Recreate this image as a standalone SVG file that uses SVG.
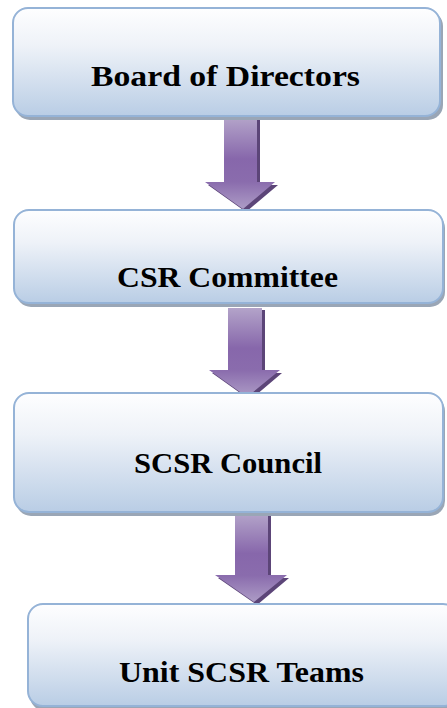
<svg xmlns="http://www.w3.org/2000/svg" width="447" height="708" viewBox="0 0 447 708">
<defs>
<linearGradient id="boxg" x1="0" y1="0" x2="0" y2="1">
<stop offset="0" stop-color="#fefeff"/>
<stop offset="0.35" stop-color="#eef2f8"/>
<stop offset="1" stop-color="#b9cde5"/>
</linearGradient>
<linearGradient id="arrg" x1="0" y1="0" x2="0" y2="1">
<stop offset="0" stop-color="#b3a3c9"/>
<stop offset="0.45" stop-color="#8767ab"/>
<stop offset="0.7" stop-color="#8a6cad"/>
<stop offset="1" stop-color="#ad9cc6"/>
</linearGradient>
<style>
.box{fill:url(#boxg);stroke:#95b3d7;stroke-width:2}
.shadow{fill:#9aa6b6}
.lbl{font-family:"Liberation Serif","Times New Roman",serif;font-weight:bold;font-size:30px;fill:#000}
.arr{fill:url(#arrg)}
.arrs{fill:#5c4578}
</style>
</defs>
<g id="connectors">
<g id="arrow1">
<path class="arrs" d="M227,120 H260 V185 H278 L246,212 L208,185 H227 Z"/>
<path class="arr" d="M224,118 H257 V182 H275 L243,209 L205,182 H224 Z"/>
</g>
<g id="arrow2">
<path class="arrs" d="M231,310 H265 V373 H282 L250,400 L212,373 H231 Z"/>
<path class="arr" d="M228,308 H262 V370 H280 L247,397 L209,370 H228 Z"/>
</g>
<g id="arrow3">
<path class="arrs" d="M238,516 H271 V578 H289 L257,605 L218,578 H238 Z"/>
<path class="arr" d="M235,514 H268 V575 H287 L254,602 L215,575 H235 Z"/>
</g>
</g>
<g id="node1">
<rect class="shadow" x="15" y="11" width="428" height="109" rx="15"/>
<rect class="box" x="13" y="8" width="427" height="108" rx="15"/>
<text class="lbl" x="225.5" y="86" text-anchor="middle" textLength="269" lengthAdjust="spacingAndGlyphs">Board of Directors</text>
</g>
<g id="node2">
<rect class="shadow" x="16" y="213" width="429" height="94" rx="15"/>
<rect class="box" x="14" y="210" width="429" height="93" rx="15"/>
<text class="lbl" x="227.5" y="287" text-anchor="middle" textLength="221" lengthAdjust="spacingAndGlyphs">CSR Committee</text>
</g>
<g id="node3">
<rect class="shadow" x="16" y="396" width="429" height="120" rx="15"/>
<rect class="box" x="14" y="393" width="429" height="119" rx="15"/>
<text class="lbl" x="228" y="473" text-anchor="middle" textLength="188" lengthAdjust="spacingAndGlyphs">SCSR Council</text>
</g>
<g id="node4">
<rect class="shadow" x="30" y="607" width="430" height="104" rx="15"/>
<rect class="box" x="28" y="604" width="430" height="102" rx="15"/>
<text class="lbl" x="241.5" y="682" text-anchor="middle" textLength="245" lengthAdjust="spacingAndGlyphs">Unit SCSR Teams</text>
</g>
</svg>
